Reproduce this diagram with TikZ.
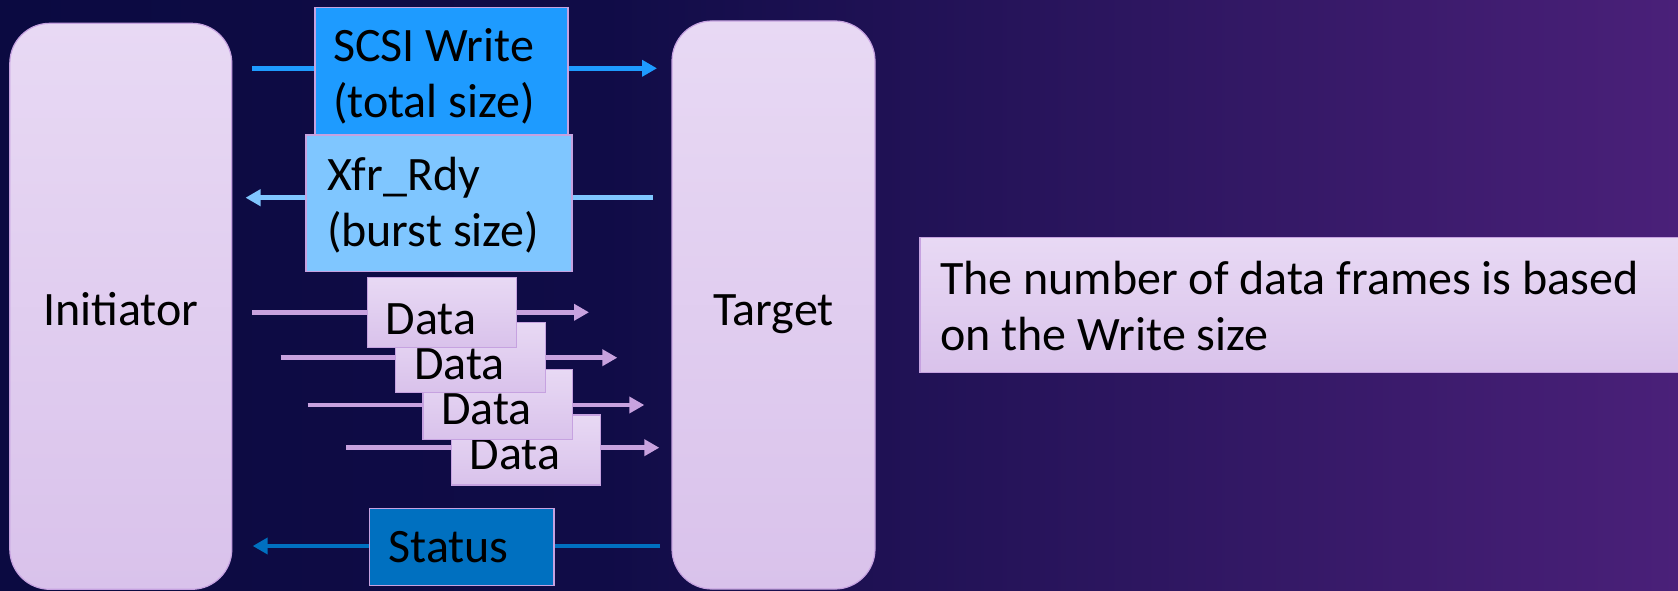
\documentclass[tikz,border=0pt]{standalone}
\usepackage{fontspec}
\setmainfont{Carlito}
\usetikzlibrary{arrows.meta}

% colours
\definecolor{navy}{HTML}{0B0A41}
\definecolor{navymid}{HTML}{100C47}
\definecolor{plum}{HTML}{4A2079}
\definecolor{lilacTop}{HTML}{E8D9F4}
\definecolor{lilacBot}{HTML}{D9C2EB}
\definecolor{lilacEdge}{HTML}{C6A2E0}
\definecolor{cmdBlue}{HTML}{1E9BFF}
\definecolor{rdyBlue}{HTML}{7FC6FF}
\definecolor{stsBlue}{HTML}{0070C0}
\definecolor{dataArrow}{HTML}{C8A2DF}

% backdrop: dark navy on the left fading into plum on the right
\pgfdeclarehorizontalshading{backdrop}{100bp}{%
  color(0bp)=(navy); color(25bp)=(navy); color(43bp)=(navymid);
  color(75bp)=(plum); color(100bp)=(plum)}

\pgfdeclarelayer{back}
\pgfdeclarelayer{wires}
\pgfsetlayers{back,wires,main}

\begin{document}
\begin{tikzpicture}[x=1pt,y=-1pt,
  every node/.style={inner sep=0pt, outer sep=0pt},
  txt/.style={font=\fontsize{48}{56}\selectfont, text=black, anchor=base west},
  lilacbox/.style={draw=lilacEdge, line width=1.2pt, top color=lilacTop, bottom color=lilacBot},
  endpoint/.style={lilacbox, rounded corners=40pt, anchor=north west},
  msgbox/.style={draw=lilacEdge, line width=1.2pt, anchor=north west},
  databox/.style={msgbox, lilacbox, minimum width=149.4pt, minimum height=70pt},
  flow/.style={line width=4.5pt, -{Triangle[length=15pt,width=16pt]}},
]
\path[use as bounding box] (0,0) rectangle (1678,591);

\begin{pgfonlayer}{back}
  \shade[shading=backdrop] (0,0) rectangle (1678,591);
\end{pgfonlayer}

% the two end points
\node[endpoint, minimum width=222pt, minimum height=566pt] (init) at (9.8,23.3) {};
\node[endpoint, minimum width=203pt, minimum height=568pt] (tgt) at (672,21) {};
\coordinate (lblrow) at (0,325);
\node[txt, anchor=base] (initL) at (init.center |- lblrow) {Initiator};
\node[txt, anchor=base] (tgtL) at (tgt.center |- lblrow) {Target};

% command and transfer-ready frames
\node[msgbox, fill=cmdBlue, minimum width=253pt, minimum height=127.7pt] (scsi) at (315,7.3) {};
\node[txt] (scsiL) at (333,62) {\vtop{\hbox{SCSI Write}\hbox{(total size)}}};
\node[msgbox, fill=rdyBlue, minimum width=266pt, minimum height=136.3pt] (xfr) at (306,135) {};
\node[txt] (xfrL) at (327,190) {\vtop{\hbox{Xfr\_Rdy}\hbox{(burst size)}}};

% data frames, stacked so the first one sits on top
\node[databox] (d4) at (451.3,415) {};
\node[txt] (d4L) at (469.5,469.5) {Data};
\node[databox] (d3) at (423,369.3) {};
\node[txt] (d3L) at (441,424) {Data};
\node[databox] (d2) at (395.7,322.3) {};
\node[txt] (d2L) at (414,379) {Data};
\node[databox] (d1) at (367.3,277.3) {};
\node[txt] (d1L) at (385.5,334) {Data};

% status frame
\node[msgbox, fill=stsBlue, minimum width=184.7pt, minimum height=77.4pt] (sts) at (369.3,508.3) {};
\node[txt] (stsL) at (388.5,562) {Status};

% side note
\node[lilacbox, anchor=north west, minimum width=780pt, minimum height=135pt] (note) at (920,237.7) {};
\node[txt] (noteL) at (940,294) {\vtop{\hbox{The number of data frames is based}\hbox{on the Write size}}};

% arrow end points
\coordinate (c1a) at (252,68.3);   \coordinate (c1b) at (657,68.3);
\coordinate (c2a) at (652.7,197.7); \coordinate (c2b) at (245.5,197.7);
\coordinate (c3a) at (252,312.3);  \coordinate (c3b) at (589,312.3);
\coordinate (c4a) at (280.7,357.7); \coordinate (c4b) at (617.3,357.7);
\coordinate (c5a) at (307.7,405);  \coordinate (c5b) at (644.3,405);
\coordinate (c6a) at (346.3,447.7); \coordinate (c6b) at (659.3,447.7);
\coordinate (c7a) at (660,546);    \coordinate (c7b) at (252.7,546);

\begin{pgfonlayer}{wires}
  \draw[flow, cmdBlue] (c1a) -- (c1b);
  \draw[flow, rdyBlue] (c2a) -- (c2b);
  \draw[flow, dataArrow] (c3a) -- (c3b);
  \draw[flow, dataArrow] (c4a) -- (c4b);
  \draw[flow, dataArrow] (c5a) -- (c5b);
  \draw[flow, dataArrow] (c6a) -- (c6b);
  \draw[flow, stsBlue] (c7a) -- (c7b);
\end{pgfonlayer}
\end{tikzpicture}
\end{document}
